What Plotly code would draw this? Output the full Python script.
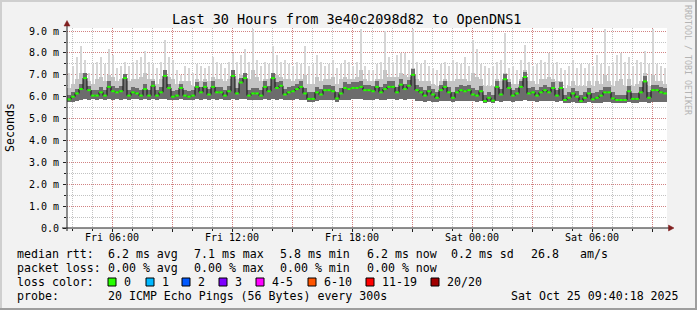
import plotly.graph_objects as go
import pandas as pd
import numpy as np

# ---------------- data ----------------
start_center = "2025-10-24 03:51"   # first 12-minute column centre
n_cols = 150

med = [5.88,6.0,6.15,6.35,6.85,6.3,6.05,6.05,6.2,6.05,
       6.45,6.25,6.2,6.25,6.85,6.05,6.2,6.15,6.05,6.35,
       6.05,6.5,6.05,6.2,6.95,6.4,6.0,6.05,6.4,6.05,
       6.0,6.05,6.45,6.2,6.45,6.1,6.45,6.2,
       6.2,6.05,6.25,6.95,6.15,6.65,6.85,6.05,6.15,6.15,
       6.05,6.45,6.25,6.85,6.4,6.5,6.1,6.2,6.25,6.35,
       6.45,6.15,5.9,5.9,6.2,6.1,6.3,6.3,6.25,5.92,
       6.15,6.4,6.35,6.4,6.4,6.45,6.3,
       6.3,6.25,6.45,6.2,6.35,6.45,6.45,6.2,6.55,6.35,
       6.5,7.0,6.3,6.2,6.05,6.25,6.1,5.95,6.3,6.45,
       6.2,5.95,6.2,6.3,6.25,6.3,6.1,6.05,6.25,5.8,
       5.95,5.82,6.45,6.1,6.8,6.4,6.05,6.15,
       6.45,6.9,6.15,6.2,6.05,6.2,6.3,6.2,6.4,6.05,
       6.4,5.85,5.95,6.15,6.0,5.8,5.95,6.15,5.88,5.95,
       6.05,6.2,6.2,5.92,5.85,5.85,5.85,6.25,5.9,5.9,
       6.2,6.7,5.95,6.3,6.3,6.2,6.15]

lo = [5.74,5.76,5.8,5.86,5.88,5.87,5.88,5.86,5.88,5.87,
      5.88,5.87,5.88,5.86,5.88,5.87,5.88,5.88,5.86,5.88,
      5.87,5.88,5.86,5.88,5.88,5.87,5.86,5.87,5.88,5.86,
      5.86,5.87,5.88,5.87,5.88,5.86,5.88,5.87,
      5.88,5.86,5.87,5.88,5.87,5.88,5.88,5.86,5.87,5.87,
      5.86,5.88,5.87,5.88,5.87,5.88,5.86,5.87,5.87,5.88,
      5.87,5.84,5.76,5.76,5.82,5.84,5.86,5.86,5.85,5.78,
      5.84,5.87,5.87,5.88,5.88,5.88,5.87,
      5.87,5.86,5.88,5.86,5.87,5.88,5.88,5.87,5.88,5.87,
      5.88,5.88,5.82,5.8,5.78,5.8,5.78,5.76,5.8,5.82,
      5.8,5.76,5.8,5.81,5.8,5.81,5.79,5.78,5.8,5.72,
      5.74,5.72,5.8,5.78,5.82,5.8,5.78,5.8,
      5.82,5.84,5.8,5.8,5.78,5.8,5.81,5.8,5.82,5.78,
      5.8,5.72,5.72,5.74,5.72,5.7,5.72,5.74,5.7,5.72,
      5.72,5.74,5.74,5.72,5.7,5.7,5.7,5.74,5.72,5.72,
      5.74,5.76,5.72,5.74,5.74,5.74,5.74]

q1 = [6.1,6.2,6.35,6.6,7.1,6.5,6.3,6.3,6.45,6.3,
      6.7,6.5,6.4,6.5,7.05,6.3,6.45,6.4,6.3,6.6,
      6.3,6.7,6.3,6.45,7.2,6.6,6.25,6.3,6.6,6.3,
      6.25,6.3,6.65,6.45,6.65,6.35,6.7,6.45,
      6.45,6.3,6.5,7.2,6.4,6.85,7.1,6.3,6.4,6.4,
      6.3,6.7,6.5,7.1,6.65,6.7,6.35,6.45,6.5,6.6,
      6.7,6.4,6.2,6.2,6.45,6.35,6.55,6.55,6.5,6.2,
      6.4,6.65,6.6,6.65,6.65,6.7,6.55,
      6.55,6.5,6.7,6.45,6.6,6.7,6.7,6.45,6.8,6.6,
      6.75,7.25,6.55,6.45,6.3,6.5,6.35,6.2,6.55,6.7,
      6.45,6.2,6.45,6.55,6.5,6.55,6.4,6.3,6.5,6.1,
      6.2,6.1,6.7,6.35,7.05,6.65,6.3,6.4,
      6.7,7.15,6.4,6.45,6.3,6.45,6.55,6.45,6.65,6.3,
      6.65,6.1,6.2,6.4,6.25,6.1,6.2,6.4,6.15,6.2,
      6.3,6.45,6.45,6.2,6.1,6.1,6.1,6.5,6.15,6.15,
      6.45,6.95,6.2,6.55,6.55,6.45,6.4]

q2 = [6.4,6.6,6.8,7.1,7.0,6.7,6.6,6.8,6.9,6.7,
      7.0,6.9,6.7,6.8,7.0,6.7,6.8,6.8,6.9,7.1,
      6.8,6.8,6.6,6.8,7.2,6.9,6.8,6.6,6.7,6.7,
      6.7,6.5,6.8,6.7,6.8,6.7,6.9,6.8,
      6.8,6.7,6.8,7.1,6.8,7.0,7.1,6.8,7.2,6.9,
      6.7,6.8,6.8,7.1,7.0,6.9,6.8,6.8,6.7,6.8,
      6.8,7.0,6.6,6.6,6.9,6.7,6.8,6.8,6.9,6.6,
      6.8,6.9,6.8,6.8,6.9,7.2,6.8,
      6.7,6.7,6.8,6.8,7.2,6.9,6.9,6.9,7.1,7.0,
      6.9,7.3,6.8,6.7,6.7,6.7,6.6,6.5,6.7,6.8,
      6.7,6.7,6.8,6.8,6.8,6.7,7.1,6.9,6.8,6.5,
      6.5,6.5,6.8,6.7,7.1,6.8,6.6,6.6,
      6.8,7.2,6.7,6.7,6.6,6.8,6.8,6.9,6.8,6.7,
      6.7,6.4,6.5,6.7,6.5,6.5,6.5,6.7,6.5,6.7,
      6.6,7.0,6.7,6.5,6.7,6.8,6.5,6.8,6.5,6.6,
      6.7,7.1,6.5,7.0,6.7,6.7,6.6]

hi = [7.1,7.4,7.8,8.3,7.7,7.1,7.5,7.6,7.8,7.5,
      8.2,7.9,7.3,7.4,7.6,7.4,7.6,7.7,7.8,8.1,
      7.6,7.5,7.3,7.6,8.6,7.8,7.7,7.2,7.0,7.4,
      7.3,7.1,7.5,7.4,7.3,7.4,7.8,7.6,
      7.5,7.3,7.6,8.0,7.6,7.9,8.2,7.6,9.1,7.7,
      7.4,7.6,7.5,8.3,7.9,7.6,7.7,7.5,7.4,7.6,
      7.5,8.3,7.4,7.5,7.9,7.6,7.4,7.5,7.7,7.3,
      7.5,7.7,7.6,7.4,7.6,9.1,7.4,
      7.2,7.2,7.5,7.6,9.0,7.8,7.6,7.9,8.0,8.0,
      7.7,9.1,7.6,7.5,7.7,7.4,7.3,7.2,7.5,7.6,
      7.4,7.7,7.6,7.5,7.8,7.4,8.6,8.2,7.5,7.4,
      7.3,7.4,7.6,7.7,8.9,7.3,7.4,7.2,
      7.7,8.35,7.6,7.4,7.5,7.7,7.6,8.0,7.5,7.6,
      7.3,7.2,7.4,7.7,7.3,7.5,7.3,7.5,7.4,7.9,
      7.5,9.1,7.4,7.6,7.9,8.0,7.6,7.8,7.4,7.7,
      7.6,8.1,7.5,9.1,7.5,7.4,7.3]

y_ticks = [0, 1, 2, 3, 4, 5, 6, 7, 8, 9]
y_labels = ["0.0", "1.0 m", "2.0 m", "3.0 m", "4.0 m", "5.0 m",
            "6.0 m", "7.0 m", "8.0 m", "9.0 m"]
x_tick_labels = ["Fri 06:00", "", "Fri 12:00", "", "Fri 18:00", "",
                 "Sat 00:00", "", "Sat 06:00", ""]

title_text = "Last 30 Hours from 3e40c2098d82 to OpenDNS1"
legend_rows = [
    [(16, "median rtt:"), (107, "6.2 ms avg"), (193, "7.1 ms max"),
     (279, "5.8 ms min"), (366, "6.2 ms now"), (450, "0.2 ms sd"),
     (530, "26.8"), (579, "am/s")],
    [(16, "packet loss:"), (107, "0.00 % avg"), (193, "0.00 % max"),
     (279, "0.00 % min"), (366, "0.00 % now")],
]
loss_labels = ["0", "1", "2", "3", "4-5", "6-10", "11-19", "20/20"]
loss_colors = ["#26ff00", "#00b8ff", "#0059ff", "#7e00ff", "#ff00ff",
               "#ff5500", "#ff0000", "#a10000"]
probe_text = "20 ICMP Echo Pings (56 Bytes) every 300s"
date_text = "Sat Oct 25 09:40:18 2025"

# ---------------- figure ----------------
W, H = 697, 310
L, R, T, B = 67, 30, 28, 82
PW, PH = W - L - R, H - T - B
MONO = "DejaVu Sans Mono"


def px(x):
    return (x - L) / PW


def py(y):
    return (H - B - y) / PH


t = pd.date_range(start=start_center, periods=n_cols, freq="12min")
bw = 12 * 60 * 1000
lo_a = np.array(lo)

fig = go.Figure()
# light spikes (max) drawn as narrower columns, then continuous bands
for top, col, wfrac in [(hi, "#d6d6d6", 0.55), (q2, "#c4c4c4", 1.0),
                        (q1, "#6c6c6c", 1.0)]:
    fig.add_trace(go.Bar(x=t, y=np.array(top) - lo_a, base=lo_a, width=bw * wfrac,
                         marker=dict(color=col, line=dict(width=0)),
                         hoverinfo="skip", showlegend=False))
fig.add_trace(go.Scatter(x=t, y=med, mode="lines",
                         line=dict(color="#111111", width=1, shape="hvh"),
                         hoverinfo="skip", showlegend=False))
fig.add_trace(go.Scatter(x=t, y=med, mode="markers",
                         marker=dict(symbol="line-ew", size=2.6,
                                     line=dict(color="#26ff00", width=2)),
                         hoverinfo="skip", showlegend=False))

major_grid = "rgba(222,79,79,0.55)"
minor_grid = "rgba(143,143,143,0.55)"

fig.update_layout(
    width=W, height=H, autosize=False,
    margin=dict(l=L, r=R, t=T, b=B, pad=0),
    paper_bgcolor="#f2f2f2", plot_bgcolor="#ffffff",
    barmode="overlay", bargap=0, showlegend=False,
    font=dict(family=MONO, size=10, color="#000000"),
    xaxis=dict(
        type="date",
        range=["2025-10-24 03:45", "2025-10-25 09:45"],
        tickmode="array",
        tickvals=pd.date_range("2025-10-24 06:00", "2025-10-25 09:00", freq="3h"),
        ticktext=x_tick_labels,
        showgrid=True, gridcolor=major_grid, griddash="1px,1px", gridwidth=1,
        ticks="outside", ticklen=3, tickcolor="#1f1f1f",
        tickfont=dict(family=MONO, size=10, color="#000000"),
        ticklabelstandoff=-3,
        minor=dict(dtick=3600000, tick0="2025-10-24 00:00", showgrid=True,
                   gridcolor=minor_grid, griddash="1px,1px",
                   ticks="outside", ticklen=2, tickcolor="#1f1f1f"),
        showline=False, zeroline=False, fixedrange=True,
    ),
    yaxis=dict(
        range=[0, 9.14],
        tickmode="array", tickvals=y_ticks, ticktext=y_labels,
        showgrid=True, gridcolor=major_grid, griddash="1px,1px", gridwidth=1,
        ticks="outside", ticklen=3, tickcolor="#1f1f1f",
        tickfont=dict(family=MONO, size=10, color="#000000"),
        minor=dict(dtick=0.5, showgrid=True, gridcolor=minor_grid,
                   griddash="1px,1px", ticks="outside", ticklen=2,
                   tickcolor="#1f1f1f"),
        showline=False, zeroline=False, fixedrange=True,
        ticklabelstandoff=2,
    ),
)

shapes = []
# frame shading
shapes.append(dict(type="rect", xref="paper", yref="paper", x0=px(0), x1=px(W),
                   y0=py(0), y1=py(2), fillcolor="#cfcfcf", line=dict(width=0)))
shapes.append(dict(type="rect", xref="paper", yref="paper", x0=px(0), x1=px(2),
                   y0=py(0), y1=py(H), fillcolor="#cfcfcf", line=dict(width=0)))
shapes.append(dict(type="rect", xref="paper", yref="paper", x0=px(0), x1=px(W),
                   y0=py(H - 2), y1=py(H), fillcolor="#9e9e9e", line=dict(width=0)))
shapes.append(dict(type="rect", xref="paper", yref="paper", x0=px(W - 2), x1=px(W),
                   y0=py(0), y1=py(H), fillcolor="#9e9e9e", line=dict(width=0)))
# axes
shapes.append(dict(type="line", xref="paper", yref="paper", x0=px(67), x1=px(67),
                   y0=py(25), y1=py(231), line=dict(color="#1f1f1f", width=1)))
shapes.append(dict(type="line", xref="paper", yref="paper", x0=px(62), x1=px(670),
                   y0=py(228), y1=py(228), line=dict(color="#1f1f1f", width=1)))
# arrows
shapes.append(dict(type="path", xref="paper", yref="paper",
                   path=f"M {px(64)} {py(26)} L {px(67)} {py(20.5)} L {px(70)} {py(26)} Z",
                   fillcolor="#801f1f", line=dict(color="#801f1f", width=0.5)))
shapes.append(dict(type="path", xref="paper", yref="paper",
                   path=f"M {px(668.5)} {py(225)} L {px(674)} {py(228)} L {px(668.5)} {py(231)} Z",
                   fillcolor="#801f1f", line=dict(color="#801f1f", width=0.5)))

annotations = []


def txt(x, y, s, size=11.6, anchor="left", color="#000000", angle=0):
    annotations.append(dict(xref="paper", yref="paper", x=px(x), y=py(y), text=s,
                            showarrow=False, xanchor=anchor, yanchor="middle",
                            textangle=angle, borderpad=0,
                            font=dict(family=MONO, size=size, color=color)))


txt(347, 19, title_text, size=13.5, anchor="center")
txt(10, 128, "Seconds", size=11.6, anchor="center", angle=-90)
txt(688, 60, "RRDTOOL / TOBI OETIKER", size=8.3, anchor="center",
    color="#b4b4b4", angle=90)

row_y = [254, 268, 282, 296]
for yy, row in zip(row_y, legend_rows):
    for xx, s in row:
        txt(xx, yy, s)

txt(16, row_y[2], "loss color:")
box_x = [108, 146, 182, 219, 256, 308, 366, 431]
for bx, lab, col in zip(box_x, loss_labels, loss_colors):
    shapes.append(dict(type="rect", xref="paper", yref="paper",
                       x0=px(bx), x1=px(bx + 8), y0=py(286), y1=py(278),
                       fillcolor=col, line=dict(color="#000000", width=1)))
    txt(bx + 15, row_y[2], lab)

txt(16, row_y[3], "probe:")
txt(107, row_y[3], probe_text)
txt(680, row_y[3], date_text, anchor="right")

fig.update_layout(shapes=shapes, annotations=annotations)
fig.write_html("out.html")
